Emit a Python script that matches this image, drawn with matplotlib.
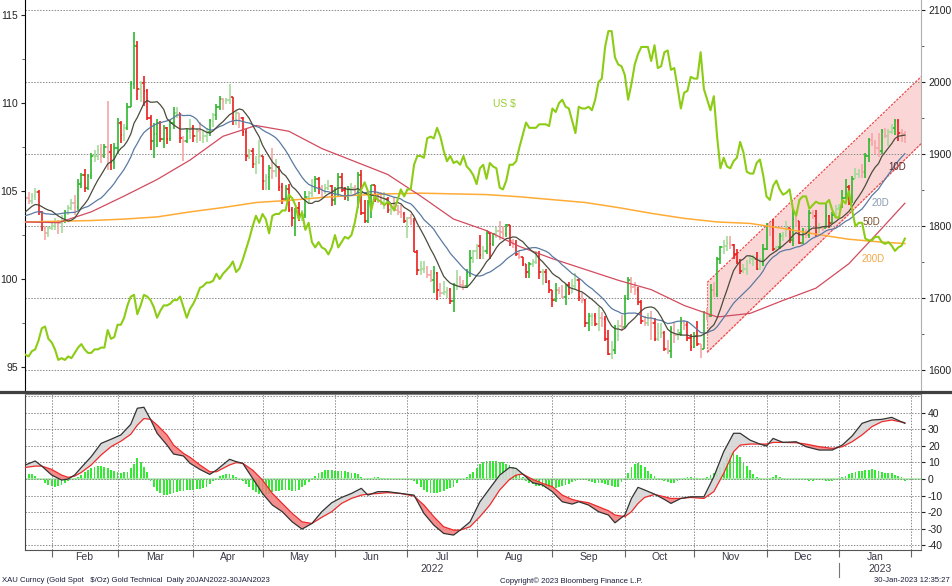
import numpy as np
import pandas as pd
import matplotlib
matplotlib.use('Agg')
import matplotlib.pyplot as plt
import matplotlib.transforms as mtransforms
from matplotlib.lines import Line2D

plt.rcParams['font.family'] = ['Liberation Sans', 'DejaVu Sans']
plt.rcParams['axes.unicode_minus'] = False

# ---- gold spot, daily (one line per month) ----
gold_pre = [1803, 1809, 1811, 1811, 1810, 1805, 1815, 1829, 1801, 1814, 1810,
            1791, 1797, 1802, 1822, 1826, 1821, 1818, 1818, 1813, 1843]

gold_close = [
    1839, 1835, 1842, 1848, 1820, 1797, 1791, 1797,
    1801, 1807, 1805, 1808, 1820, 1826, 1833, 1827, 1859, 1871, 1853, 1870, 1898, 1898, 1906, 1898, 1910, 1903, 1889, 1909,
    1944, 1927, 1936, 1966, 1998, 2050, 1990, 1999, 1988, 1951, 1918, 1928, 1943, 1921, 1936, 1921, 1944, 1958, 1958, 1923, 1919, 1933, 1937,
    1925, 1932, 1923, 1925, 1931, 1946, 1954, 1966, 1977, 1974, 1975, 1979, 1950, 1958, 1951, 1931, 1898, 1904, 1886, 1889, 1897,
    1863, 1868, 1881, 1877, 1883, 1855, 1838, 1852, 1822, 1811, 1825, 1815, 1815, 1841, 1846, 1853, 1866, 1853, 1851, 1853, 1856, 1837,
    1847, 1869, 1851, 1841, 1852, 1853, 1848, 1871, 1819, 1808, 1834, 1857, 1839, 1838, 1832, 1838, 1822, 1827, 1823, 1820, 1817, 1807,
    1811, 1808, 1764, 1739, 1740, 1742, 1733, 1725, 1735, 1711, 1708, 1709, 1711, 1696, 1718, 1727, 1719, 1717, 1735, 1756, 1765,
    1772, 1760, 1765, 1791, 1775, 1789, 1794, 1792, 1789, 1802, 1779, 1776, 1761, 1758, 1747, 1736, 1748, 1751, 1758, 1737, 1737, 1723, 1711,
    1697, 1712, 1710, 1702, 1718, 1708, 1717, 1725, 1702, 1697, 1665, 1675, 1675, 1664, 1673, 1671, 1644, 1622, 1628, 1660, 1661, 1660,
    1699, 1725, 1716, 1712, 1695, 1668, 1666, 1673, 1666, 1644, 1650, 1652, 1629, 1627, 1657, 1649, 1652, 1665, 1663, 1645, 1633,
    1648, 1636, 1630, 1681, 1676, 1712, 1706, 1755, 1771, 1772, 1777, 1774, 1761, 1751, 1738, 1741, 1750, 1755, 1755, 1741, 1750, 1768,
    1803, 1797, 1769, 1771, 1787, 1789, 1797, 1781, 1810, 1807, 1777, 1793, 1788, 1818, 1814, 1792, 1798, 1797, 1814, 1804, 1815, 1824,
    1827, 1839, 1855, 1833, 1866, 1872, 1877, 1876, 1897, 1920, 1916, 1909, 1905, 1932, 1926, 1931, 1936, 1946, 1930, 1928, 1923,
]

gold_high = [
    1848, 1847, 1846, 1853, 1851, 1821, 1801, 1801,
    1808, 1812, 1809, 1816, 1823, 1829, 1838, 1843, 1865, 1874, 1880, 1872, 1902, 1906, 1913, 1914, 1914, 1974, 1914, 1915,
    1950, 1946, 1942, 1971, 2002, 2070, 2057, 2002, 2009, 1990, 1955, 1943, 1949, 1946, 1940, 1938, 1947, 1966, 1966, 1958, 1925, 1935, 1949,
    1940, 1937, 1945, 1932, 1937, 1949, 1958, 1970, 1981, 1978, 1978, 1998, 1980, 1960, 1957, 1952, 1935, 1908, 1909, 1898, 1920,
    1898, 1872, 1885, 1909, 1894, 1884, 1860, 1858, 1859, 1827, 1826, 1834, 1822, 1849, 1849, 1866, 1870, 1869, 1858, 1859, 1864, 1858,
    1855, 1874, 1874, 1855, 1856, 1860, 1858, 1875, 1878, 1836, 1837, 1857, 1858, 1846, 1847, 1847, 1840, 1830, 1841, 1830, 1829, 1820,
    1813, 1817, 1812, 1767, 1752, 1752, 1745, 1739, 1745, 1736, 1721, 1724, 1716, 1714, 1721, 1739, 1731, 1725, 1740, 1767, 1767,
    1775, 1788, 1773, 1795, 1792, 1791, 1799, 1807, 1800, 1803, 1802, 1783, 1781, 1765, 1758, 1748, 1750, 1754, 1765, 1765, 1740, 1740, 1726,
    1712, 1721, 1716, 1718, 1720, 1722, 1727, 1735, 1728, 1708, 1699, 1679, 1679, 1680, 1688, 1681, 1676, 1656, 1641, 1663, 1670, 1677,
    1704, 1730, 1729, 1722, 1716, 1697, 1676, 1680, 1682, 1672, 1665, 1666, 1655, 1642, 1662, 1667, 1657, 1674, 1670, 1667, 1650,
    1653, 1668, 1637, 1683, 1687, 1720, 1722, 1757, 1773, 1781, 1787, 1786, 1776, 1768, 1755, 1748, 1753, 1759, 1760, 1764, 1756, 1775,
    1805, 1805, 1810, 1773, 1790, 1792, 1807, 1798, 1824, 1814, 1808, 1798, 1796, 1822, 1823, 1823, 1804, 1800, 1833, 1816, 1820, 1830,
    1831, 1850, 1865, 1858, 1870, 1881, 1879, 1886, 1902, 1922, 1929, 1920, 1929, 1935, 1937, 1935, 1942, 1949, 1949, 1935, 1932,
]

gold_low = [
    1832, 1831, 1831, 1836, 1815, 1794, 1781, 1785,
    1795, 1795, 1789, 1791, 1805, 1816, 1822, 1815, 1822, 1853, 1848, 1850, 1866, 1889, 1892, 1888, 1895, 1878, 1878, 1880,
    1900, 1916, 1918, 1934, 1966, 1991, 1976, 1972, 1967, 1948, 1906, 1895, 1910, 1917, 1909, 1914, 1919, 1935, 1950, 1916, 1890, 1916, 1921,
    1917, 1916, 1918, 1915, 1917, 1926, 1938, 1948, 1961, 1962, 1970, 1970, 1941, 1940, 1937, 1925, 1891, 1893, 1881, 1872, 1886,
    1850, 1850, 1850, 1866, 1868, 1849, 1831, 1836, 1820, 1800, 1787, 1808, 1807, 1812, 1833, 1840, 1847, 1845, 1840, 1845, 1850, 1828,
    1829, 1842, 1848, 1837, 1835, 1845, 1843, 1825, 1815, 1805, 1805, 1812, 1834, 1833, 1830, 1824, 1818, 1816, 1821, 1815, 1812, 1805,
    1784, 1802, 1764, 1733, 1732, 1735, 1728, 1722, 1707, 1697, 1702, 1705, 1701, 1692, 1681, 1712, 1715, 1711, 1714, 1730, 1749,
    1755, 1754, 1755, 1762, 1754, 1772, 1784, 1781, 1783, 1785, 1772, 1770, 1759, 1754, 1745, 1728, 1728, 1743, 1748, 1727, 1719, 1721, 1708,
    1688, 1695, 1706, 1700, 1691, 1705, 1710, 1712, 1696, 1693, 1660, 1654, 1661, 1662, 1654, 1660, 1640, 1621, 1615, 1622, 1641, 1655,
    1660, 1697, 1707, 1705, 1690, 1664, 1661, 1662, 1642, 1640, 1641, 1645, 1627, 1622, 1617, 1638, 1642, 1648, 1656, 1640, 1627,
    1631, 1634, 1617, 1629, 1670, 1674, 1702, 1702, 1747, 1762, 1765, 1769, 1754, 1747, 1734, 1735, 1733, 1747, 1745, 1739, 1739, 1745,
    1767, 1787, 1765, 1764, 1768, 1780, 1785, 1777, 1773, 1799, 1776, 1776, 1784, 1784, 1810, 1785, 1791, 1794, 1797, 1797, 1803, 1812,
    1822, 1826, 1839, 1830, 1832, 1865, 1867, 1867, 1867, 1889, 1911, 1901, 1896, 1900, 1922, 1911, 1928, 1927, 1918, 1917, 1916,
]

# ---- US dollar index, daily ----
usd = [
    95.7, 95.6, 95.9, 96.0, 96.5, 97.2, 97.3, 96.6,
    96.4, 96.0, 95.4, 95.5, 95.4, 95.6, 95.5, 95.8, 96.1, 96.3, 96.0, 95.8, 95.8, 96.0, 96.0, 96.1, 96.1, 97.1, 96.6, 96.7,
    97.4, 97.4, 97.8, 98.5, 99.0, 99.1, 98.0, 98.5, 99.1, 99.0, 98.8, 98.4, 97.8, 98.2, 98.5, 98.5, 98.6, 98.8, 98.8, 99.0, 98.4, 97.8, 98.3,
    98.6, 99.0, 99.5, 99.6, 99.8, 99.8, 99.9, 100.3, 100.0, 100.3, 100.5, 100.7, 101.0, 100.4, 100.6, 101.1, 101.7, 102.3, 103.0, 103.6, 103.2,
    103.7, 103.4, 102.6, 103.6, 103.7, 103.7, 103.9, 103.9, 104.8, 104.6, 104.2, 103.4, 103.8, 102.8, 103.2, 102.1, 101.8, 102.1, 101.8, 101.7, 101.4, 101.8,
    102.5, 101.8, 102.1, 102.4, 102.3, 102.5, 103.2, 104.2, 105.1, 105.5, 105.0, 103.9, 104.7, 104.5, 104.4, 104.2, 104.4, 104.2, 103.9, 104.5, 105.1, 104.7,
    105.1, 105.1, 106.5, 107.0, 107.0, 106.9, 108.0, 108.1, 108.0, 108.6, 108.1, 107.3, 106.7, 107.0, 106.6, 106.7, 106.5, 107.0, 106.4, 106.2, 105.9,
    105.4, 106.3, 106.5, 105.7, 106.6, 106.4, 106.3, 105.2, 105.1, 105.6, 106.5, 106.5, 106.7, 107.5, 108.2, 108.9, 108.6, 108.6, 108.6, 108.8, 108.8, 108.8, 108.7,
    109.7, 109.5, 110.0, 110.2, 109.8, 109.7, 109.0, 108.3, 109.8, 109.7, 109.7, 109.8, 109.6, 110.2, 111.2, 111.4, 113.2, 114.1, 114.1, 112.6, 112.2, 112.1,
    111.6, 110.2, 111.1, 112.2, 112.8, 113.2, 113.2, 113.2, 112.4, 113.3, 112.0, 112.1, 112.9, 113.0, 111.9, 112.0, 110.9, 109.7, 110.6, 110.7, 111.5,
    111.4, 111.4, 112.9, 110.8, 110.2, 109.6, 110.4, 108.1, 106.3, 106.9, 106.4, 106.3, 106.7, 106.9, 107.8, 107.2, 106.1, 106.0, 106.0, 106.6, 106.8, 105.9,
    104.7, 104.5, 105.3, 105.6, 105.1, 104.8, 104.9, 105.1, 104.0, 103.6, 104.5, 104.7, 104.7, 104.0, 104.2, 104.4, 104.3, 104.3, 104.3, 104.5, 103.9, 103.5,
    103.5, 104.5, 104.3, 105.0, 103.9, 103.0, 103.2, 103.2, 102.3, 102.2, 102.2, 102.4, 102.4, 102.1, 102.0, 102.1, 101.9, 101.6, 101.8, 101.9, 102.3,
]

# ---- 50D / 200D moving averages read every 10 sessions ----
ma_idx = [0, 10, 20, 30, 40, 50, 60, 70, 80, 90, 100, 110, 120, 130, 140,
          150, 160, 170, 180, 190, 200, 210, 220, 230, 240, 250, 260, 267]
ma50 = [1806, 1805, 1820, 1842, 1865, 1892, 1925, 1940, 1932, 1908, 1890, 1872, 1842, 1810, 1794,
        1772, 1755, 1740, 1725, 1712, 1690, 1674, 1679, 1697, 1714, 1748, 1797, 1832]
ma200 = [1806, 1807, 1808, 1810, 1813, 1820, 1826, 1833, 1836, 1840, 1843, 1845, 1846, 1845, 1844,
         1841, 1837, 1833, 1826, 1818, 1811, 1806, 1804, 1797, 1789, 1782, 1778, 1776]

# ---- trend channel ----
chan_x = [207, 272]
chan_lo = [1625, 1915]
chan_hi = [1722, 2008]

# ---- lower panel: oscillator, signal, histogram ----
osc_idx = [0, 3, 5, 8, 11, 13, 15, 17, 20, 23, 26, 29, 32, 34, 36, 38, 40, 43, 45, 48,
           50, 53, 56, 58, 62, 64, 66, 69, 72, 75, 78, 81, 84, 87, 90, 93, 96, 99, 102, 104,
           107, 110, 114, 118, 121, 124, 127, 130, 132, 135, 138, 141, 144, 147, 149, 151, 154, 157, 160, 163,
           166, 168, 171, 174, 177, 179, 182, 184, 186, 188, 191, 194, 196, 199, 202, 206, 209, 212, 215, 217,
           220, 223, 225, 227, 230, 234, 237, 241, 245, 248, 251, 254, 257, 260, 263, 267]
osc_line = [8.5, 10.9, 7.8, 2.4, -0.6, 0.0, 2.5, 7.0, 13.5, 21.5, 24.0, 26.6, 33.0, 42.7, 43.3, 36.0, 27.6, 20.5, 15.1, 13.9,
            9.5, 5.8, 2.8, 5.4, 11.9, 10.5, 9.5, 0.4, -8.7, -15.7, -19.7, -25.8, -30.2, -26.8, -19.7, -14.3, -11.1, -8.7, -5.6, -9.7,
            -7.6, -7.6, -8.7, -9.7, -20.7, -27.8, -32.8, -33.8, -30.8, -25.8, -13.7, -5.6, 2.4, 7.0, 6.4, 3.0, -2.2, -3.6, -7.6, -13.7,
            -15.1, -13.7, -15.7, -19.7, -21.7, -26.4, -21.7, -11.7, -5.0, -6.6, -9.1, -12.3, -14.7, -11.7, -10.7, -10.7, 1.4, 16.5, 27.6, 27.6,
            23.5, 21.1, 19.9, 24.5, 22.1, 22.5, 19.5, 17.5, 17.5, 20.5, 26.0, 33.6, 35.6, 36.0, 37.2, 33.6]
osc_sig = [7.0, 7.8, 7.8, 5.8, 2.4, 1.0, 1.8, 4.0, 8.5, 14.5, 19.5, 22.8, 27.0, 32.5, 36.5, 36.0, 32.6, 26.6, 20.5, 15.5,
           13.1, 8.5, 4.4, 4.4, 8.5, 9.9, 9.5, 5.4, -0.6, -8.7, -14.7, -20.7, -25.8, -26.8, -23.1, -19.7, -14.7, -11.7, -9.7, -9.1,
           -8.7, -8.2, -8.7, -10.3, -15.7, -22.7, -28.8, -30.8, -30.8, -28.8, -22.7, -15.7, -6.6, -0.2, 2.4, 3.0, -0.2, -2.6, -4.6, -9.7,
           -12.3, -13.3, -14.3, -16.7, -19.1, -21.7, -22.7, -19.7, -14.7, -11.1, -9.3, -10.7, -11.7, -11.7, -11.1, -11.7, -7.6, 3.4, 16.5, 20.5,
           21.1, 21.1, 21.1, 22.1, 22.1, 21.9, 21.1, 19.5, 18.5, 19.5, 22.5, 26.6, 31.6, 34.6, 35.6, 34.0]

hist = [
    2.5, 2.8, 3.0, 2.0, 0.5, -0.8, -2.5, -3.5,
    -4.3, -4.5, -4.0, -3.4, -2.2, -1.0, 0.2, 0.8, 1.2, 2.5, 4.0, 5.5, 6.8, 7.5, 8.0, 7.8, 7.2, 6.4, 5.4, 4.6,
    4.2, 3.9, 4.0, 4.5, 6.4, 9.0, 12.5, 10.0, 7.5, 4.0, -1.0, -4.8, -7.0, -8.6, -9.4, -9.7, -9.0, -8.4, -7.6, -7.1, -7.0, -6.9, -6.6,
    -6.5, -6.2, -5.8, -5.4, -4.8, -3.2, -1.2, 0.8, 2.0, 2.6, 3.0, 3.3, 2.6, 1.5, 0.6, -1.0, -2.8, -4.5, -6.5, -8.0, -9.1,
    -9.6, -9.7, -9.0, -8.0, -7.5, -7.0, -6.8, -6.7, -6.9, -7.1, -7.2, -6.4, -5.0, -3.6, -1.8, 0.5, 2.0, 3.4, 4.5, 5.2, 5.4, 5.2,
    5.0, 5.0, 5.0, 4.8, 4.3, 3.8, 3.6, 3.3, 1.0, 0.2, 0.8, 0.9, 1.0, 1.0, 0.8, 0.6, 0.4, 0.2, 0.0, 0.0, -0.2, -0.3,
    -0.5, -0.7, -1.1, -3.0, -4.5, -6.4, -7.6, -8.3, -8.7, -8.5, -7.8, -7.0, -6.3, -5.6, -4.6, -2.6, -0.5, 0.5, 1.4, 3.0, 4.5,
    6.6, 9.0, 10.3, 10.6, 10.9, 10.9, 10.8, 10.5, 10.0, 9.3, 8.5, 7.0, 5.5, 3.5, 1.5, -1.2, -2.2, -3.0, -3.9, -4.3, -4.6, -5.2, -5.6,
    -6.1, -5.4, -4.8, -4.3, -3.6, -3.0, -2.0, -1.0, -0.2, 0.0, -0.5, -1.2, -1.7, -2.2, -2.4, -2.6, -2.8, -3.3, -4.2, -4.8, -4.5, -2.0,
    0.5, 3.8, 7.5, 9.0, 9.5, 8.5, 7.2, 4.8, 3.2, 1.8, 0.4, -0.6, -1.0, -1.8, -2.6, -2.2, -1.2, -0.2, 0.8, 1.2, 1.4,
    0.8, 0.4, 0.1, 0.6, 1.5, 2.2, 3.8, 5.5, 7.0, 10.5, 13.0, 15.5, 15.9, 14.5, 13.1, 10.5, 8.0, 5.4, 3.0, 1.5, 0.8, 0.0,
    -0.6, 0.4, 1.4, 2.4, 1.2, 0.6, 0.2, 0.0, 0.1, 0.0, -0.2, 0.0, -0.8, -1.0, -1.2, -0.6, -0.4, -0.8, -1.2, -1.0, -1.0, -0.4,
    0.6, 1.2, 1.8, 2.8, 3.6, 4.4, 4.8, 5.1, 5.4, 5.6, 5.8, 5.2, 4.6, 4.4, 3.8, 3.6, 3.4, 2.6, 2.0, 1.0, -1.0,
]

month_names = ['Feb', 'Mar', 'Apr', 'May', 'Jun', 'Jul', 'Aug', 'Sep', 'Oct', 'Nov', 'Dec', 'Jan']

# ------------------------------------------------------------------
dates = pd.bdate_range('2022-01-20', '2023-01-30')
n = len(dates)
for name, arr in [('close', gold_close), ('high', gold_high), ('low', gold_low),
                  ('usd', usd), ('hist', hist)]:
    if len(arr) != n:
        raise SystemExit('%s has %d values, expected %d' % (name, len(arr), n))
x = np.arange(n)

close = np.array(gold_close, float)
opn = np.r_[gold_pre[-1], close[:-1]]
hi = np.maximum(np.array(gold_high, float), np.maximum(opn, close))
lo = np.minimum(np.array(gold_low, float), np.minimum(opn, close))

allc = pd.Series(gold_pre + gold_close, dtype=float)
ma10 = allc.rolling(10).mean().values[len(gold_pre):]
ma20 = allc.rolling(20).mean().values[len(gold_pre):]

up = close >= opn
big = np.abs(close - opn) >= 10
cols = np.where(up, np.where(big, '#2eb82e', '#a3dc9c'), np.where(big, '#ea1f1f', '#f6a6a6'))

# month boundaries (first session of every month)
ext = pd.bdate_range('2022-01-20', '2023-02-28')
per = ext.to_period('M')
bounds = [i for i in range(1, len(ext)) if per[i] != per[i - 1]]
xmax = 271.9

W, H = 952, 586
fig = plt.figure(figsize=(W / 100, H / 100), dpi=100)
ax = fig.add_axes([25 / W, 1 - 390 / H, 896 / W, 390 / H])
axb = fig.add_axes([25 / W, 1 - 550 / H, 896 / W, 156 / H])
axu = ax.twinx()

# ---- main panel: gold on right axis ----
ax.fill_between(chan_x, chan_lo, chan_hi, color='#f9cccc', alpha=0.8, lw=0, zorder=0.5)
ax.plot(chan_x, chan_lo, color='#f04848', lw=0.9, ls=(0, (2, 1)), zorder=0.6)
ax.plot(chan_x, chan_hi, color='#f04848', lw=0.9, ls=(0, (2, 1)), zorder=0.6)
ax.plot([chan_x[0], chan_x[0]], [chan_lo[0], chan_hi[0]], color='#f07070', lw=0.8, ls=(0, (2, 1)), zorder=0.6)

ax.vlines(x, lo, hi, colors=cols, lw=1.2, zorder=2)
ax.hlines(opn, x - 0.45, x, colors=cols, lw=1.2, zorder=2)
ax.hlines(close, x, x + 0.45, colors=cols, lw=1.2, zorder=2)

ax.plot(ma_idx, ma200, color='#ffab35', lw=1.1, zorder=3)
ax.plot(ma_idx, ma50, color='#d24b5e', lw=0.9, zorder=3)
ax.plot(x, ma20, color='#5a7aa2', lw=0.9, zorder=3)
ax.plot(x, ma10, color='#4b4b3c', lw=0.9, zorder=3)

ax.set_xlim(-0.1, xmax)
ax.set_ylim(1572.6, 2114.3)
ax.set_yticks(np.arange(1600, 2101, 100))
ax.set_yticks(np.arange(1650, 2101, 100), minor=True)
ax.yaxis.tick_right()
ax.tick_params(axis='y', which='major', direction='out', length=3, labelsize=7.5, colors='#222222', pad=2,
               left=False, labelleft=False, right=True, labelright=True)
ax.tick_params(axis='y', which='minor', direction='out', length=2, colors='#444444', left=False, right=True)
ax.set_xticks([])
ax.grid(axis='y', which='major', ls=(0, (1.5, 1.5)), color='#8a8a8a', lw=0.7)
ax.spines['top'].set_visible(False)
ax.spines['bottom'].set_visible(False)
ax.spines['left'].set_color('black')
ax.spines['right'].set_color('#b0b0b0')

# ---- US dollar on left axis ----
axu.plot(x, usd, color='#8ccc14', lw=1.5, zorder=4)
axu.set_ylim(93.69, 115.87)
axu.set_yticks([95, 100, 105, 110, 115])
axu.set_yticks(np.arange(97.5, 115, 5), minor=True)
axu.yaxis.tick_left()
axu.tick_params(axis='y', which='major', direction='out', length=3, labelsize=7.5, colors='#222222', pad=2,
                left=True, labelleft=True, right=False, labelright=False)
axu.tick_params(axis='y', which='minor', direction='out', length=2, colors='#444444', left=True, right=False)
for s in axu.spines.values():
    s.set_visible(False)

# ---- lower panel ----
axb.bar(x, hist, width=0.55, color='#35ea35', zorder=1)
axb.axhline(0, color='#a6f0a6', lw=1.2, zorder=1.5)
ol = np.array(osc_line)
os_ = np.array(osc_sig)
axb.fill_between(osc_idx, ol, os_, where=ol >= os_, interpolate=True, color='#d6d6d6', alpha=0.9, lw=0, zorder=2)
axb.fill_between(osc_idx, ol, os_, where=ol < os_, interpolate=True, color='#f37a7a', alpha=0.85, lw=0, zorder=2)
axb.plot(osc_idx, osc_sig, color='#ee2a2a', lw=0.9, zorder=3)
axb.plot(osc_idx, osc_line, color='#333333', lw=0.9, zorder=3)

axb.set_xlim(-0.1, xmax)
axb.set_ylim(-42.8, 51.3)
axb.yaxis.tick_right()
axb.set_yticks(np.arange(-40, 41, 10))
axb.tick_params(axis='y', direction='out', length=3, labelsize=7.5, colors='#222222', pad=2)
axb.set_xticks([b for b in bounds if b < xmax])
axb.set_xticklabels([])
axb.tick_params(axis='x', direction='out', length=5, colors='#666666')
axb.grid(True, ls=(0, (1.5, 1.5)), color='#8a8a8a', lw=0.7)
axb.axhline(50, ls=(0, (1.5, 1.5)), color='#8a8a8a', lw=0.7)
for s in axb.spines.values():
    s.set_color('#888888')
axb.spines['left'].set_color('#444444')
axb.spines['bottom'].set_color('#555555')

# month labels
trans = mtransforms.blended_transform_factory(axb.transData, fig.transFigure)
for k, name in enumerate(month_names):
    a = bounds[k]
    b = bounds[k + 1]
    axb.text((a + b) / 2, 1 - 557 / H, name, transform=trans, ha='center', va='center',
             fontsize=7.5, color='#3a3a48')
axb.text((0 + bounds[11]) / 2, 1 - 569 / H, '2022', transform=trans, ha='center', va='center',
         fontsize=7.5, color='#3a3a48')
axb.text((bounds[11] + xmax) / 2, 1 - 569 / H, '2023', transform=trans, ha='center', va='center',
         fontsize=7.5, color='#3a3a48')
fig.add_artist(Line2D([bounds[11], bounds[11]], [1 - 563 / H, 1 - 577 / H], transform=trans,
                      color='#777777', lw=0.8))

# separator between panels
fig.add_artist(Line2D([0, 1], [1 - 392 / H, 1 - 392 / H], color='#404040', lw=2.3))

# series labels
fig.text(504 / W, 1 - 104 / H, 'US $', fontsize=7.5, color='#99cc33', ha='center', va='center')
fig.text(897 / W, 1 - 167 / H, '10D', fontsize=7, color='#5c2a2a', ha='center', va='center')
fig.text(880 / W, 1 - 203 / H, '20D', fontsize=7, color='#8a9cb0', ha='center', va='center')
fig.text(871 / W, 1 - 222 / H, '50D', fontsize=7, color='#7a5030', ha='center', va='center')
fig.text(873 / W, 1 - 259 / H, '200D', fontsize=7, color='#f0a848', ha='center', va='center')

# footer
fy = 1 - 581 / H
fig.text(2 / W, fy, 'XAU Curncy (Gold Spot   $/Oz) Gold Technical  Daily 20JAN2022-30JAN2023',
         fontsize=5.6, color='#1c1c3c', va='center')
fig.text(500 / W, fy, 'Copyright\u00a9 2023 Bloomberg Finance L.P.', fontsize=5.6, color='#1c1c3c', va='center')
fig.text(950 / W, fy, '30-Jan-2023 12:35:27', fontsize=5.6, color='#1c1c3c', va='center', ha='right')

fig.savefig('out.png', dpi=100)
